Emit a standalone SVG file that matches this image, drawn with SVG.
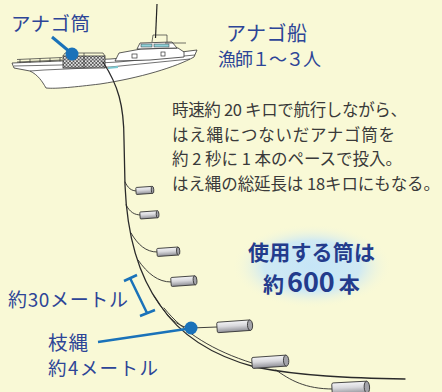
<svg xmlns="http://www.w3.org/2000/svg" width="442" height="392" viewBox="0 0 442 392">
  <style>
    .lbl { font-family: "Noto Sans CJK JP", "Noto Sans", sans-serif; fill: #2d4597; }
    .body { font-family: "Noto Sans CJK JP", "Noto Sans", sans-serif; fill: #3a3a3a; font-size: 16.5px; }
    .big { font-family: "Noto Sans CJK JP", "Noto Sans", sans-serif; fill: #233b8c; font-weight: bold; }
    .ink { fill: none; stroke: #2a2a2a; stroke-linecap: round; }
    .main { stroke-width: 1.3; }
    .branch { stroke-width: 0.9; }
    .blue { stroke: #1a72b9; fill: none; }
    .boat { fill: #ffffff; stroke: #333; stroke-width: 0.8; stroke-linejoin: round; }
    .thin { fill: none; stroke: #333; stroke-width: 0.7; }
  </style>
  <defs>
    <linearGradient id="tubeGrad" x1="0" y1="0" x2="0" y2="1">
      <stop offset="0" stop-color="#f4f4f6"/>
      <stop offset="0.45" stop-color="#d8d8dc"/>
      <stop offset="1" stop-color="#8f8f96"/>
    </linearGradient>
    <radialGradient id="glow" cx="0.5" cy="0.5" r="0.5">
      <stop offset="0" stop-color="#c6e5f7"/>
      <stop offset="0.6" stop-color="#cfe9f3"/>
      <stop offset="1" stop-color="#f9f9d6" stop-opacity="0"/>
    </radialGradient>
    <pattern id="tubes" width="3.5" height="3.5" patternUnits="userSpaceOnUse">
      <rect width="3.5" height="3.5" fill="#ffffff"/>
      <circle cx="1.75" cy="1.75" r="1.4" fill="none" stroke="#222" stroke-width="0.7"/>
    </pattern>
    <!-- trap tube, 39 long, 10 high, left end at origin -->
    <g id="tube">
      <path d="M1.5,-5 H36 V5 H1.5 Q0,5 0,3.5 V-3.5 Q0,-5 1.5,-5 Z" fill="url(#tubeGrad)" stroke="#333" stroke-width="0.9" vector-effect="non-scaling-stroke"/>
      <ellipse cx="36" cy="0" rx="2.8" ry="5" fill="#a3a3a9" stroke="#333" stroke-width="0.9" vector-effect="non-scaling-stroke"/>
    </g>
  </defs>

  <rect width="442" height="392" fill="#f9f9d6"/>

  <!-- soft highlight behind the count -->
  <ellipse cx="312" cy="266" rx="80" ry="42" fill="url(#glow)"/>

  <!-- boat -->
  <g id="boat">
    <line x1="157" y1="4" x2="155.5" y2="38" stroke="#222" stroke-width="1.2"/>
    <!-- hull -->
    <path class="boat" d="M12,63 L60,61 L110,59 L150,56 L197,50 L194,57 C176,67 140,78 100,84 C75,87 56,89 46,88 C42,81 38,75 30,71 L14,68 Z"/>
    <path class="thin" d="M14,66 L60,65 L118,62 L195,55"/>
    <path class="thin" d="M30,71 L44,70 L110,67 L190,59"/>
    <!-- stern railing -->
    <path class="thin" d="M17,59.5 L62,57.5 M17,62 L62,60 M20,59.4 V63 M30,59 V62.6 M40,58.6 V62.2 M50,58.2 V61.8 M60,57.8 V61.4"/>
    <!-- forward cabin -->
    <path class="boat" d="M115,61 L119,53 L141,49 L178,48 L184,52 L184,57 L150,60 Z"/>
    <rect x="132" y="54" width="5" height="4" class="thin"/>
    <rect x="161" y="52" width="4" height="4" class="thin"/>
    <path d="M108,67 L118,66 L118,68 L108,69 Z" fill="#7ccad3"/>
    <!-- bridge -->
    <path class="boat" d="M137,49 L140,43 L172,42 L177,48 Z"/>
    <rect x="141" y="44" width="11" height="3" fill="#8fd3db" stroke="#333" stroke-width="0.5"/>
    <rect x="154" y="44" width="15" height="3" fill="#8fd3db" stroke="#333" stroke-width="0.5"/>
    <path class="thin" d="M152,42 L153,35 L167,35 L167,42 M165,43 L186,43"/>
    <!-- stacked tubes on deck -->
    <rect x="63" y="56" width="42" height="12" fill="url(#tubes)" stroke="#333" stroke-width="0.8"/>
    <path class="thin" d="M63,56 L65,53 L103,53 L105,56 M84,53 V68"/>
  </g>

  <!-- connectors: main line and branch lines -->
  <g id="lines" class="ink">
    <path class="main" d="M103,62 C118,85 124,105 124,140 L125,185 C127,235 138,275 160,305 C180,335 210,355 255,367 C300,376 350,378 405,379"/>
    <path class="branch" d="M125,182 C128,188 131,191 137,191"/>
    <path class="branch" d="M126,205 C130,212 134,215 141,215"/>
    <path class="branch" d="M131,233 C138,245 146,252 157,252"/>
    <path class="branch" d="M138,260 C148,274 158,282 171,282"/>
    <path class="branch" d="M154,296 C166,315 176,327 191,328 L217,327"/>
    <path class="branch" d="M164,308 C184,333 214,351 252,363"/>
    <path class="branch" d="M276,370 C290,380 305,389 333,389"/>
  </g>

  <!-- tubes on branch lines -->
  <g id="tubes-set">
    <use href="#tube" transform="translate(136,191) rotate(-4) scale(0.46,0.7)"/>
    <use href="#tube" transform="translate(140,215.5) rotate(-4) scale(0.49,0.7)"/>
    <use href="#tube" transform="translate(157,252.5) rotate(-4) scale(0.59,0.8)"/>
    <use href="#tube" transform="translate(171,282) rotate(-4) scale(0.67,0.9)"/>
    <use href="#tube" transform="translate(217,327.5) rotate(-4) scale(0.92,1.05)"/>
    <use href="#tube" transform="translate(252,363) rotate(-4) scale(0.95,1.1)"/>
    <use href="#tube" transform="translate(332,389) rotate(-3) scale(0.97,1.2)"/>
  </g>

  <!-- trap label -->
  <g id="trap-label">
    <text class="lbl" x="11" y="30.5" font-size="19.5" textLength="79">アナゴ筒</text>
    <line class="blue" x1="52" y1="37" x2="70" y2="52" stroke-width="3"/>
    <circle cx="72" cy="54" r="6.5" fill="#1a72b9"/>
  </g>

  <!-- boat label -->
  <g id="boat-label">
    <text class="lbl" x="226" y="41" font-size="20" textLength="81">アナゴ船</text>
    <text class="lbl" x="218" y="66" font-size="18" textLength="103">漁師１～３人</text>
  </g>

  <!-- description -->
  <g id="description">
    <text class="body" x="172" y="116" textLength="235">時速約 20 キロで航行しながら、</text>
    <text class="body" x="172" y="141" textLength="223">はえ縄につないだアナゴ筒を</text>
    <text class="body" x="172" y="165" textLength="230">約 2 秒に 1 本のペースで投入。</text>
    <text class="body" x="172" y="190" textLength="268">はえ縄の総延長は 18キロにもなる。</text>
  </g>

  <!-- tube count -->
  <g id="count">
    <text class="big" x="248" y="260" font-size="21" textLength="127">使用する筒は</text>
    <text class="big" x="263" y="292" font-size="21">約<tspan font-size="27" dx="3">600</tspan><tspan dx="4">本</tspan></text>
  </g>

  <!-- spacing dimension -->
  <g id="spacing">
    <path class="blue" stroke-width="2.5" d="M130,278 L147,313 M124,281 L137,275 M140,316 L155,310"/>
    <text class="lbl" x="8" y="307" font-size="19" textLength="120">約30メートル</text>
  </g>

  <!-- branch line label -->
  <g id="branch-label">
    <line class="blue" x1="98" y1="342" x2="186" y2="329" stroke-width="2.5"/>
    <circle cx="191" cy="328" r="6.5" fill="#1a72b9"/>
    <text class="lbl" x="48" y="350" font-size="19.5" textLength="40">枝縄</text>
    <text class="lbl" x="48" y="375" font-size="18.5" textLength="110">約4メートル</text>
  </g>
</svg>
